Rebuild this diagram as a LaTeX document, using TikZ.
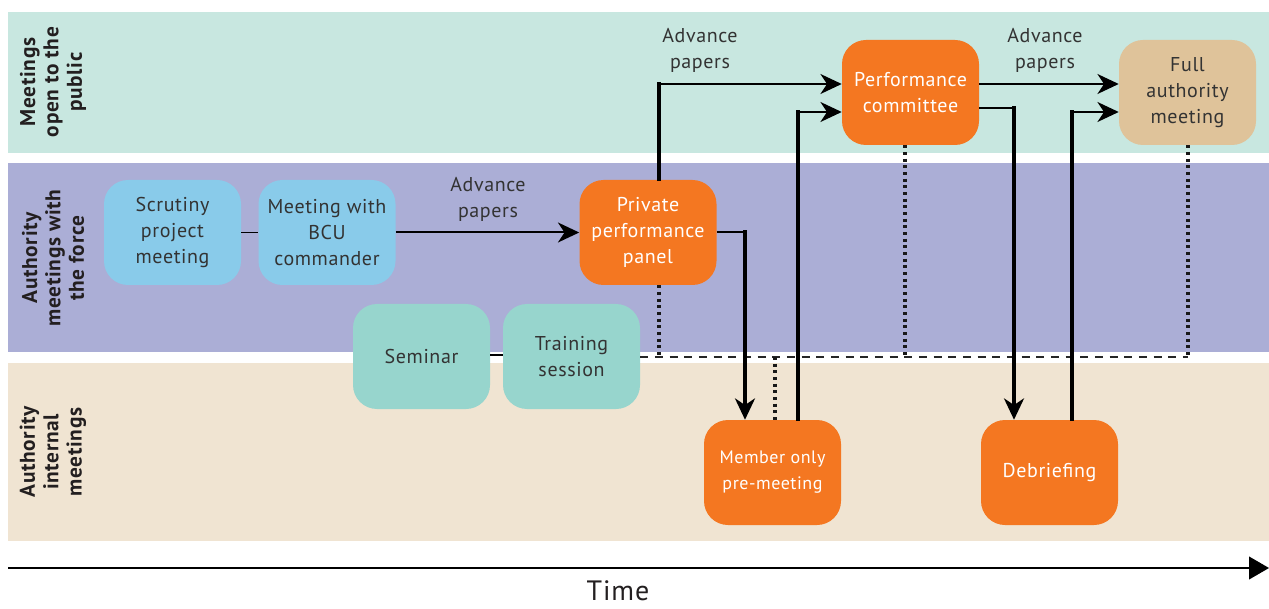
\documentclass[tikz,border=0pt]{standalone}
\usepackage{fontspec}
\setmainfont[LetterSpace=3]{PT Sans}
\usetikzlibrary{arrows.meta}
\definecolor{bandA}{HTML}{C8E7E0}
\definecolor{bandB}{HTML}{ABAED6}
\definecolor{bandC}{HTML}{F0E4D2}
\definecolor{bluebox}{HTML}{89CBEA}
\definecolor{tealbox}{HTML}{97D5CD}
\definecolor{orangebox}{HTML}{F47721}
\definecolor{tanbox}{HTML}{DFC39A}
\definecolor{txt}{HTML}{333333}
\definecolor{lbl}{HTML}{231F20}
\begin{document}
\begin{tikzpicture}[x=0.75pt,y=-0.75pt,
  box/.style={rounded corners=18pt, minimum width=102.75pt, minimum height=78.75pt,
    align=center, font=\fontsize{15}{19.5}\selectfont, text=txt, inner sep=2pt},
  bandlabel/.style={rotate=90, align=center, text=lbl,
    font=\bfseries\fontsize{16}{17.5}\selectfont},
  plainlabel/.style={align=center, text=txt, font=\fontsize{15}{19.5}\selectfont},
  tipstyle/.style={-{Stealth[length=16pt,width=15pt,inset=5pt]}},
  hline/.style={line width=1.5pt, black},
  hthin/.style={line width=1pt, black},
  vline/.style={line width=2.5pt, black, line cap=rect},
  dotline/.style={line width=2.4pt, black!90, dash pattern=on 2.2pt off 2.8pt},
  dashline/.style={line width=1.2pt, black!85, dash pattern=on 6pt off 5pt},
  axis/.style={line width=1.5pt, black, -{Triangle[length=15pt,width=17pt]}}]
\useasboundingbox (0,0) rectangle (1269,609);
% bands
\fill[bandA] (8,12) rectangle (1269,153);
\fill[bandB] (8,163) rectangle (1269,352);
\fill[bandC] (8,363) rectangle (1269,541);
\node[bandlabel] (lab1) at (53,82) {Meetings\\open to the\\public};
\node[bandlabel] (lab2) at (53,258) {Authority\\meetings with\\the force};
\node[bandlabel] (lab3) at (53,452) {Authority\\internal\\meetings};
% nodes
\node[box, fill=bluebox] (scrut) at (172.5,232.5) {Scrutiny\\project\\meeting};
\node[box, fill=bluebox] (bcu) at (327,232.5) {Meeting with\\BCU\\commander};
\node[box, fill=orangebox, text=white] (panel) at (648,232.5) {Private\\performance\\panel};
\node[box, fill=orangebox, text=white] (perf) at (910.5,92.5) {Performance\\committee};
\node[box, fill=tanbox] (full) at (1187.5,92.5) {Full\\authority\\meeting};
\node[box, fill=tealbox] (seminar) at (421.5,356.5) {Seminar};
\node[box, fill=tealbox] (training) at (571.5,356.5) {Training\\session};
\node[box, fill=orangebox, text=white, font=\fontsize{13.5}{19.5}\selectfont] (member) at (772.5,472.5) {Member only\\pre-meeting};
\node[box, fill=orangebox, text=white] (debrief) at (1049.5,472.5) {Debriefing};
% labels
\node[plainlabel] (adv1) at (488,199) {Advance\\papers};
\node[plainlabel] (adv2) at (700,50) {Advance\\papers};
\node[plainlabel] (adv3) at (1045,50) {Advance\\papers};
% corner coordinates
\coordinate (c1) at (659,84);
\coordinate (c2) at (798,112);
\coordinate (c3) at (1014,108);
\coordinate (c4) at (1072,112);
\coordinate (c5) at (745,232);
\coordinate (c6) at (1188,357);
\coordinate (c7) at (905,357);
\coordinate (c8) at (775,357);
% dotted and dashed
\draw[dashline] (training.east |- c6) -- (c6);
\draw[dotline] (c1 |- panel.south) -- (c1 |- c6);
\draw[dotline] (c7 |- perf.south) -- (c7);
\draw[dotline] (c6 |- full.south) -- (c6);
\draw[dotline] (c8) -- (c8 |- member.north);
% connectors
\draw[hthin] (scrut) -- (bcu);
\draw[hthin] (seminar.east |- 0,355) -- (training.west |- 0,355);
\draw[hline, tipstyle] (bcu) -- (panel);
\draw[vline] (c1 |- panel.north) -- (c1);
\draw[hline, tipstyle] (c1) -- (c1 -| perf.west);
\draw[vline] (c2 |- member.north) -- (c2);
\draw[hline, tipstyle] (c2) -- (c2 -| perf.west);
\draw[hline, tipstyle] (c1 -| perf.east) -- (c1 -| full.west);
\draw[hthin] (c3 -| perf.east) -- (c3);
\draw[vline, tipstyle] (c3) -- (c3 |- debrief.north);
\draw[vline] (c4 |- debrief.north) -- (c4);
\draw[hline, tipstyle] (c4) -- (c4 -| full.west);
\draw[hthin] (c5 -| panel.east) -- (c5);
\draw[vline, tipstyle] (c5) -- (c5 |- member.north);
% time axis
\coordinate (t0) at (8,568);
\coordinate (t1) at (1269,568);
\draw[axis] (t0) -- (t1);
\node[text=lbl, font=\fontsize{21}{25}\selectfont, anchor=base, inner sep=0pt] (time) at (618,600) {Time};
\end{tikzpicture}
\end{document}
